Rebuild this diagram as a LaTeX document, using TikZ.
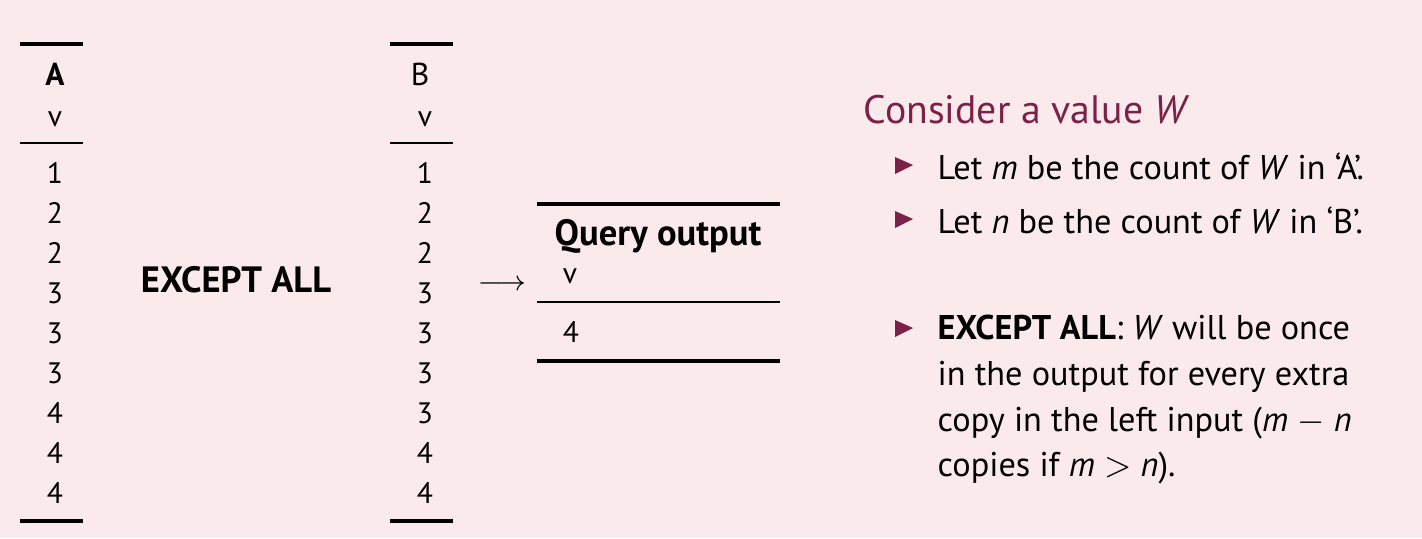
\documentclass[tikz,border=0pt]{standalone}
\usepackage{fontspec}
\setmainfont{PT Sans}
\usepackage{tikz}
\definecolor{slidebg}{HTML}{FBEAEC}
\definecolor{slidered}{HTML}{7B2149}
\tikzset{
  toprule/.style={line width=0.9pt},
  midrule/.style={line width=0.5pt},
  cell/.style={anchor=base, inner sep=0pt, font=\fontsize{8.4}{10}\selectfont},
  headcell/.style={cell, font=\fontsize{10.4}{12}\selectfont\bfseries},
  bodytext/.style={anchor=base west, inner sep=0pt, font=\fontsize{9.75}{13}\selectfont},
  titletext/.style={anchor=base west, inner sep=0pt, text=slidered, font=\fontsize{11.3}{13}\selectfont},
  bullet/.style={fill=slidered}
}
\begin{document}
\begin{tikzpicture}[x=0.01cm,y=-0.01cm]
\useasboundingbox[fill=slidebg] (0,0) rectangle (1422,538);

% table A
\draw[toprule] (20,44) -- (83,44);
\node[headcell, font=\fontsize{9}{10}\selectfont\bfseries] (Ahead) at (55,85) {A};
\node[cell] (Acol) at (55,126) {v};
\draw[midrule] (20,143) -- (83,143);
\foreach \v [count=\i] in {1,2,2,3,3,3,4,4,4}
  \node[cell] (A\i) at (55,{143+40*\i}) {\v};
\draw[toprule] (20,521) -- (83,521);

\node[headcell] (op) at (236,292) {EXCEPT ALL};

% table B
\draw[toprule] (390,44) -- (453,44);
\node[cell, font=\fontsize{9}{10}\selectfont] (Bhead) at (420,85) {B};
\node[cell] (Bcol) at (425,126) {v};
\draw[midrule] (390,143) -- (453,143);
\foreach \v [count=\i] in {1,2,2,3,3,3,3,4,4}
  \node[cell] (B\i) at (425,{143+40*\i}) {\v};
\draw[toprule] (390,521) -- (453,521);

\node[inner sep=0pt, font=\fontsize{7.7}{10}\selectfont] (arr) at (502,285) {$\longrightarrow$};

% query output
\draw[toprule] (537,204) -- (780,204);
\node[headcell] (Qhead) at (658,245) {Query output};
\node[cell] (Qcol) at (570,283) {v};
\draw[midrule] (537,302) -- (780,302);
\node[cell] (Q1) at (571,342) {4};
\draw[toprule] (537,361) -- (780,361);

% explanation
\node[titletext] (title) at (863,123) {Consider a value \textit{W}};
\fill[bullet] (895,157) -- (913,165) -- (895,174) -- cycle;
\node[bodytext] (b1) at (937,179) {Let \textit{m} be the count of \textit{W} in `A'.};
\fill[bullet] (895,211) -- (913,219) -- (895,228) -- cycle;
\node[bodytext] (b2) at (937,233) {Let \textit{n} be the count of \textit{W} in `B'.};
\fill[bullet] (895,320) -- (913,328) -- (895,337) -- cycle;
\node[bodytext] (b3a) at (937,339) {\textbf{EXCEPT ALL}: \textit{W} will be once};
\node[bodytext] (b3b) at (937,385) {in the output for every extra};
\node[bodytext] (b3c) at (937,431) {copy in the left input (\textit{m} $-$ \textit{n}};
\node[bodytext] (b3d) at (937,476) {copies if \textit{m} $>$ \textit{n}).};
\end{tikzpicture}
\end{document}
